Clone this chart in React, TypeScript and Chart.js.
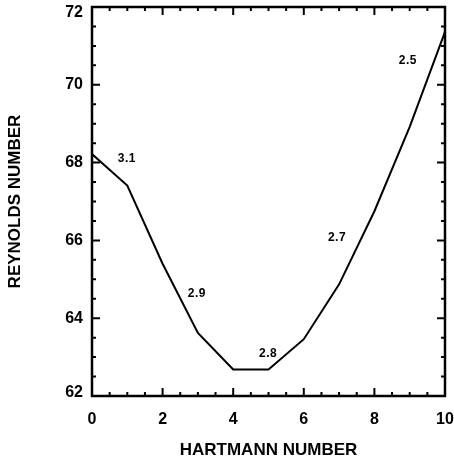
import React, { useEffect, useRef } from "react";
import { Chart, registerables } from "chart.js";

Chart.register(...registerables);

const hartmann = [0, 1, 2, 3, 4, 5, 6, 7, 8, 9, 10];
const reynolds = [68.22, 67.41, 65.4, 63.62, 62.68, 62.68, 63.46, 64.87, 66.75, 68.92, 71.36];
const labelTexts = ["3.1", "2.9", "2.8", "2.7", "2.5"];
const labelX = [0.99, 2.97, 4.99, 6.94, 8.95];
const labelY = [68.1, 64.62, 63.08, 66.08, 70.62];
const xTicks = [0, 2, 4, 6, 8, 10];
const yTicks = [62, 64, 66, 68, 70, 72];

const FONT = "'Liberation Sans', Arial, Helvetica, sans-serif";

const edgeLabels = {
  id: "edgeLabels",
  beforeDraw(chart: any) {
    const s = chart.scales.y;
    s._labelItems = null;
    const items = s.getLabelItems();
    items.forEach((it: any) => {
      const t = it.options && it.options.translation;
      if (!t) return;
      if (String(it.label) === "72") t[1] += 6;
      if (String(it.label) === "62") t[1] -= 3;
    });
  },
};

const frameTicks = {
  id: "frameTicks",
  afterDraw(chart: any) {
    const { ctx, chartArea } = chart;
    const xs = chart.scales.x;
    const ys = chart.scales.y;
    const { left, right, top, bottom } = chartArea;
    ctx.save();
    ctx.strokeStyle = "#000";
    ctx.lineWidth = 2;
    ctx.beginPath();
    for (let v = 0; v <= 10.001; v += 0.5) {
      const major = Math.abs(v - Math.round(v / 2) * 2) < 1e-6;
      const len = major ? 8 : 4;
      const px = xs.getPixelForValue(v);
      ctx.moveTo(px, bottom);
      ctx.lineTo(px, bottom - len);
      ctx.moveTo(px, top);
      ctx.lineTo(px, top + len);
    }
    for (let v = 62; v <= 72.001; v += 0.5) {
      const major = Math.abs(v - Math.round(v / 2) * 2) < 1e-6;
      const len = major ? 8 : 4;
      const py = ys.getPixelForValue(v);
      ctx.moveTo(left, py);
      ctx.lineTo(left + len, py);
      ctx.moveTo(right, py);
      ctx.lineTo(right - len, py);
    }
    ctx.stroke();
    ctx.lineWidth = 2.5;
    ctx.strokeRect(left, top, right - left, bottom - top);
    // data labels
    ctx.fillStyle = "#000";
    ctx.font = `bold 12px ${FONT}`;
    try {
      (ctx as any).letterSpacing = "0.5px";
    } catch (e) {}
    ctx.textAlign = "center";
    ctx.textBaseline = "middle";
    labelTexts.forEach((t, i) => {
      ctx.fillText(t, xs.getPixelForValue(labelX[i]), ys.getPixelForValue(labelY[i]));
    });
    ctx.restore();
  },
};

export default function App() {
  const ref = useRef<HTMLCanvasElement>(null);
  useEffect(() => {
    document.body.style.margin = "0";
    const chart = new Chart(ref.current!, {
      type: "line",
      data: {
        datasets: [
          {
            data: hartmann.map((x, i) => ({ x, y: reynolds[i] })),
            borderColor: "#000",
            borderWidth: 2,
            pointRadius: 0,
            tension: 0,
            fill: false,
          },
        ],
      },
      options: {
        animation: false,
        responsive: false,
        maintainAspectRatio: false,
        layout: { padding: { left: 0, right: 9, top: 7, bottom: 0 } },
        plugins: { legend: { display: false }, tooltip: { enabled: false } },
        scales: {
          x: {
            type: "linear",
            min: 0,
            max: 10,
            afterBuildTicks: (s: any) => {
              s.ticks = xTicks.map((v) => ({ value: v }));
            },
            afterFit: (s: any) => {
              s.height = 68;
              s.paddingLeft = 0;
              s.paddingRight = 0;
            },
            grid: { display: false, drawTicks: false },
            border: { display: false },
            ticks: {
              color: "#000",
              font: { family: FONT, size: 16, weight: "bold" },
              padding: 14,
              maxRotation: 0,
              autoSkip: false,
            },
            title: {
              display: true,
              text: "HARTMANN NUMBER",
              color: "#000",
              font: { family: FONT, size: 17, weight: "bold" },
              padding: { top: 3, bottom: 3 },
            },
          },
          y: {
            type: "linear",
            min: 62,
            max: 72,
            afterBuildTicks: (s: any) => {
              s.ticks = yTicks.map((v) => ({ value: v }));
            },
            afterFit: (s: any) => {
              s.width = 92;
              s.paddingTop = 0;
              s.paddingBottom = 0;
            },
            grid: { display: false, drawTicks: false },
            border: { display: false },
            ticks: {
              color: "#000",
              font: { family: FONT, size: 16, weight: "bold" },
              padding: 9,
              autoSkip: false,
            },
            title: {
              display: true,
              text: "REYNOLDS NUMBER",
              color: "#000",
              font: { family: FONT, size: 17, weight: "bold" },
              padding: { top: 5, bottom: 5 },
            },
          },
        },
      },
      plugins: [edgeLabels, frameTicks],
    });
    return () => chart.destroy();
  }, []);
  return <canvas ref={ref} width={454} height={464} style={{ display: "block" }} />;
}
